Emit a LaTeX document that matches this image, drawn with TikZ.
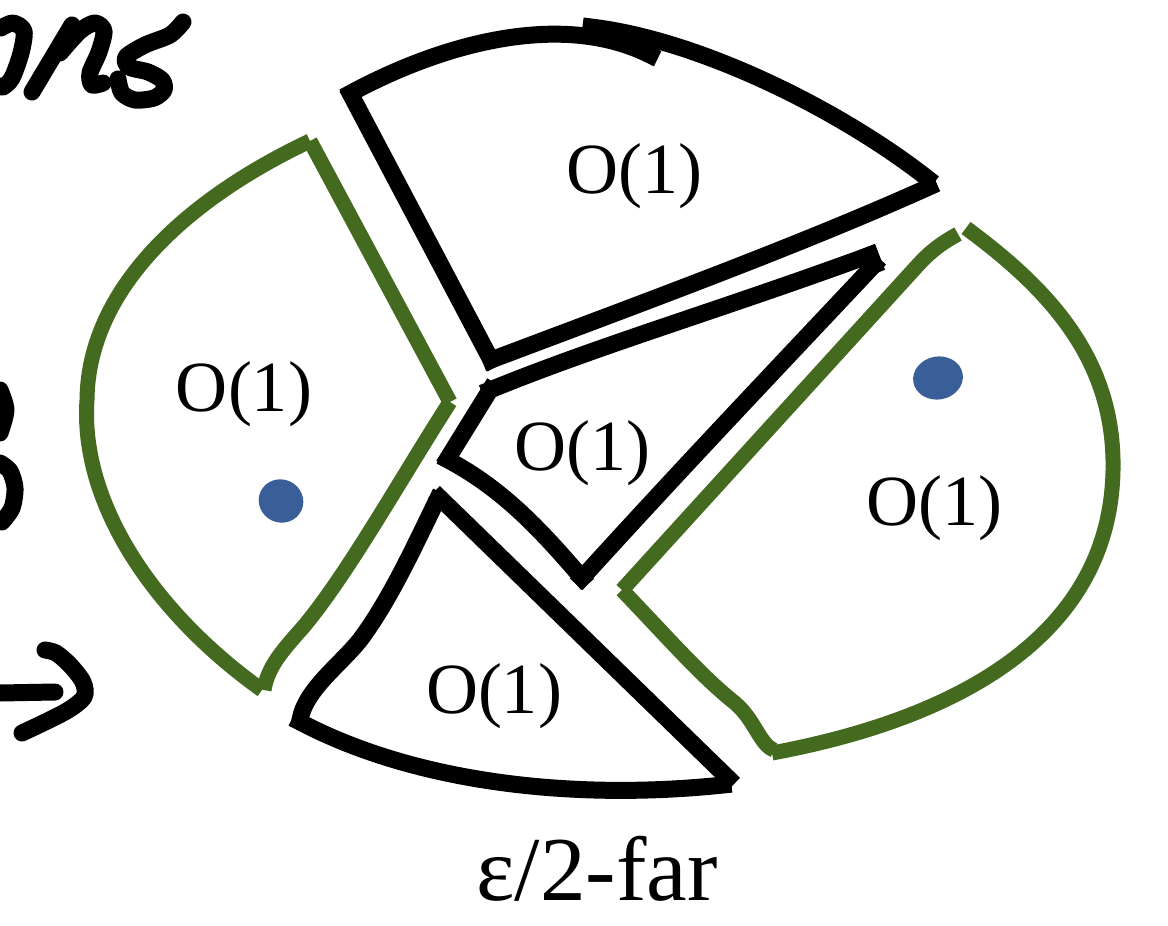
\documentclass[tikz,border=0pt]{standalone}
\usepackage{fontspec}
\setmainfont{Liberation Serif}
\definecolor{grn}{RGB}{67,106,30}
\definecolor{dotblue}{RGB}{58,95,152}
\begin{document}
\begin{tikzpicture}[x=0.02cm,y=-0.02cm,
  blk/.style={line width=0.34cm, line cap=rect, line join=round},
  gline/.style={draw=grn, line width=0.3cm, line cap=butt, line join=round},
  hand/.style={line width=0.34cm, line cap=round, line join=round},
  lbl/.style={font=\fontsize{41}{49}\selectfont, anchor=base, inner sep=0pt},
  farlbl/.style={font=\fontsize{52}{62}\selectfont, anchor=base, inner sep=0pt},
  blob/.style={fill=dotblue}]
\useasboundingbox (0,0) rectangle (1168,925);

% ---- handwriting fragments at the left edge ----
\draw[hand] plot[smooth] coordinates {(1,28) (13,23) (24,31) (21,53) (12,78) (3,87) (0,86)};
\draw[hand] (32,92) -- (72,25);
\draw[hand] plot[smooth] coordinates {(60,53) (80,31) (95,23) (104,31) (99,52) (90,73) (92,85) (103,83)};
\draw[hand] plot[smooth] coordinates {(183,22) (170,35) (145,45) (126,57) (129,67) (148,72) (162,80) (164,90) (154,98) (135,100) (122,93) (118,79)};
\draw[hand] plot[smooth] coordinates {(0,390) (6,410) (0,433)};
\draw[hand] plot[smooth] coordinates {(0,463) (10,471) (15,488) (12,508) (2,522)};
\draw[hand] (0,693) -- (55,692);
\draw[hand] plot[smooth] coordinates {(45,650) (56,653) (70,665) (83,682) (84,697) (65,712) (22,733)};

% ---- top black region ----
\draw[blk] (351,95) -- (491,360);
\draw[blk] (351,93) .. controls (440,45) and (560,10) .. (650,55);
\draw[blk] (591,27) .. controls (700,40) and (840,110) .. (927,178);
\draw[blk] (929,187) .. controls (800,245) and (650,300) .. (491,360);
\node[lbl] (top) at (634,194) {O(1)};

% ---- middle black region ----
\draw[blk] (490,390) .. controls (600,345) and (720,310) .. (870,255);
\draw[blk] (870,255) -- (874,265);
\draw[blk] (874,265) .. controls (780,365) and (680,470) .. (582,578);
\draw[blk] (582,578) .. controls (545,535) and (505,490) .. (448,460);
\draw[blk] (448,458) -- (490,390);
\node[lbl] (mid) at (582,470) {O(1)};

% ---- bottom black region ----
\draw[blk] (300,720) .. controls (305,690) and (340,665) .. (360,640)
                     .. controls (390,600) and (415,545) .. (437,500);
\draw[blk] (440,498) -- (728,778);
\draw[blk] (723,785) .. controls (580,800) and (420,785) .. (300,722);
\node[lbl] (bot) at (494,713) {O(1)};

% ---- left green region ----
\draw[gline] (310,141) .. controls (185,200) and (88,290) .. (87,400)
                       .. controls (80,500) and (150,610) .. (262,690);
\draw[gline] (264,690) .. controls (268,665) and (285,648) .. (305,625)
                       .. controls (350,570) and (400,480) .. (450,402);
\draw[gline] (450,402) -- (310,141);
\node[lbl] (left) at (244,411) {O(1)};
\fill[blob, shift={(281,501)}, rotate=-25] (0,0) ellipse [x radius=0.45cm, y radius=0.43cm];

% ---- right green region ----
\draw[gline] (958,234) .. controls (940,244) and (930,252) .. (918,265) -- (622,590);
\draw[gline] (622,590) .. controls (670,640) and (700,675) .. (735,703)
                       .. controls (755,720) and (760,745) .. (774,750);
\draw[gline] (772,753) .. controls (950,720) and (1110,640) .. (1113,470)
                       .. controls (1115,360) and (1050,290) .. (966,228);
\node[lbl] (right) at (934,525) {O(1)};
\fill[blob, shift={(938,378)}, rotate=10] (0,0) ellipse [x radius=0.5cm, y radius=0.43cm];

% ---- caption ----
\node[farlbl] (far) at (597,900) {ε/2-far};
\end{tikzpicture}
\end{document}
